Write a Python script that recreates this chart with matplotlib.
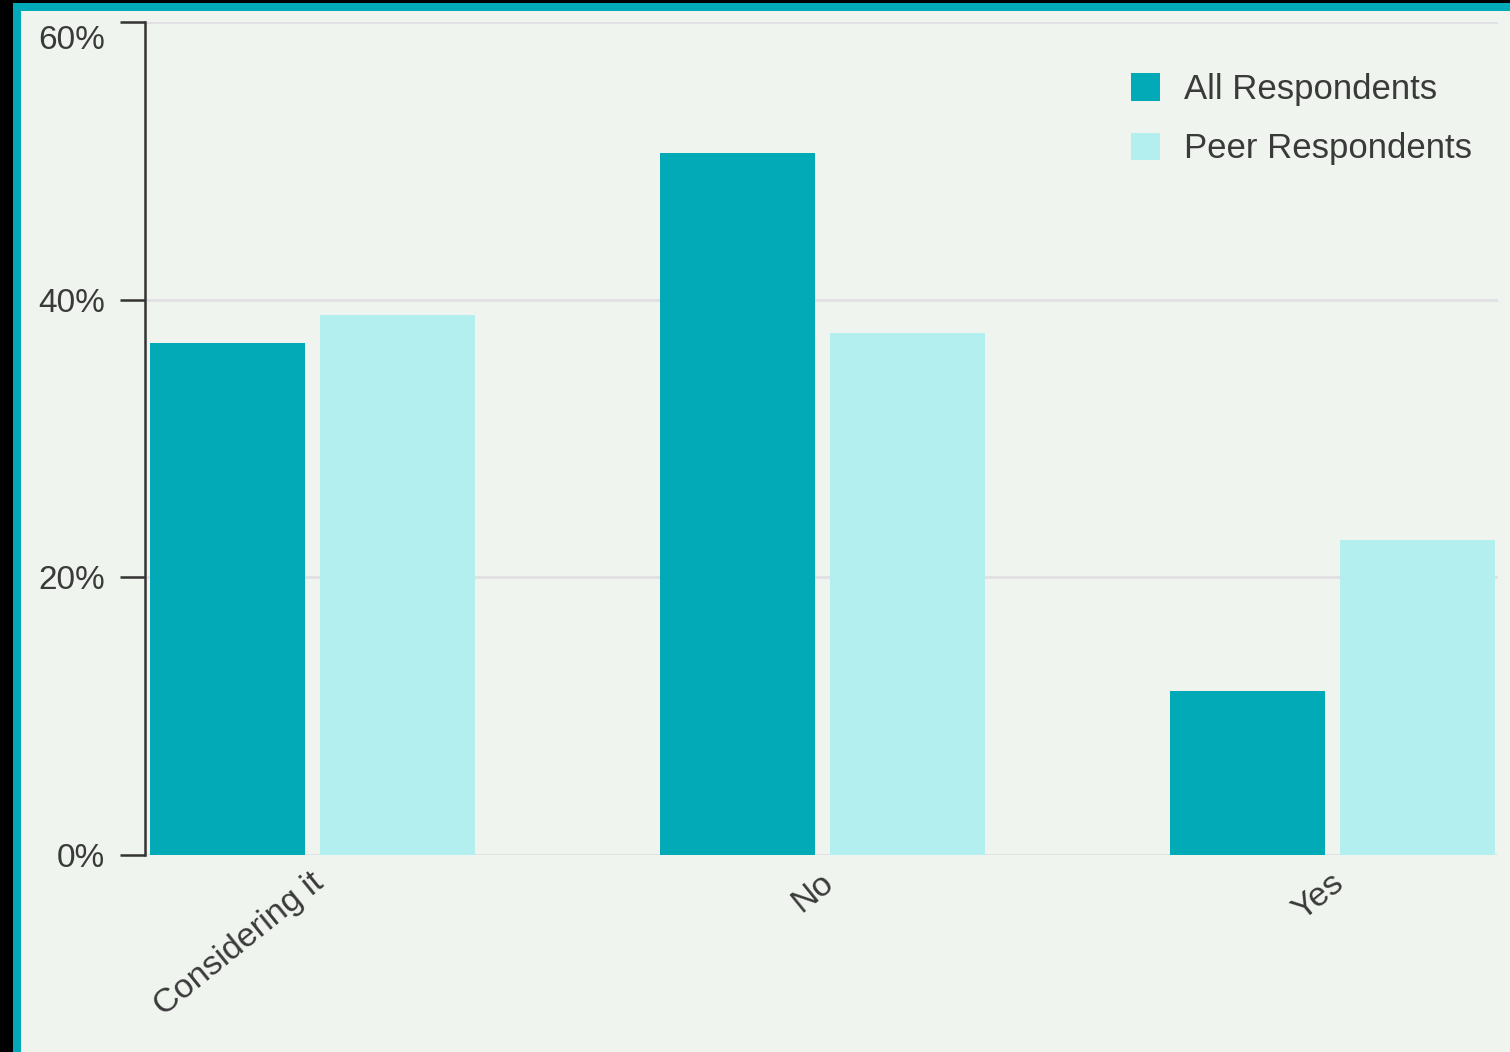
import matplotlib
matplotlib.use("Agg")
import matplotlib.pyplot as plt
import numpy as np
from matplotlib.patches import Rectangle

categories = ["Considering it", "No", "Yes"]
all_resp = [36.9, 50.6, 11.8]
peer_resp = [38.9, 37.6, 22.7]
series_names = ["All Respondents", "Peer Respondents"]
yticks = [0, 20, 40, 60]
ytick_labels = ["0%", "20%", "40%", "60%"]

W, H = 1510, 1052
FONT = "Liberation Sans"
TXT = "#3a3a3a"
fig = plt.figure(figsize=(W / 100, H / 100), dpi=100)
fig.patch.set_facecolor("black")
fig.add_artist(Rectangle((13 / W, 0), 1 - 13 / W, (H - 3) / H, transform=fig.transFigure,
                         facecolor="#02A9B7", edgecolor="none", zorder=0))
fig.add_artist(Rectangle((21 / W, 0), 1 - 21 / W, (H - 11) / H, transform=fig.transFigure,
                         facecolor="#F0F4EF", edgecolor="none", zorder=0))

ax = fig.add_axes([145 / W, (H - 855) / H, (1498 - 145) / W, (855 - 22) / H])
ax.set_facecolor("none")

x = np.arange(len(categories))
bw = 0.304
gap = 0.029
ax.bar(x - (bw + gap) / 2, all_resp, bw, color="#02A9B7", label=series_names[0], zorder=3)
ax.bar(x + (bw + gap) / 2, peer_resp, bw, color="#B3EFEF", label=series_names[1], zorder=3)

ax.set_xlim(-0.328, 2.324)
ax.set_ylim(0, 60)
ax.set_yticks(yticks)
# the top label is drawn separately, pushed down inside the figure
ax.set_yticklabels(ytick_labels[:-1] + [""], fontsize=24, color=TXT, family=FONT)
ax.annotate(ytick_labels[-1], xy=(0, yticks[-1]), xycoords=("axes fraction", "data"),
            xytext=(-28.8, -13), textcoords="offset points", ha="right", va="center",
            fontsize=24, color=TXT, family=FONT)
for v in yticks:
    ax.axhline(v, color="#E1E0E4", lw=2, zorder=1)

ax.set_xticks(x - 0.005)
ax.set_xticklabels(categories, rotation=39, ha="right", va="top", rotation_mode="anchor",
                   fontsize=24.5, color=TXT, family=FONT)
ax.tick_params(axis="x", length=0, pad=9)
ax.tick_params(axis="y", length=18, width=1.8, color="#333333", pad=11)

for s in ["top", "right", "bottom"]:
    ax.spines[s].set_visible(False)
ax.spines["left"].set_color("#333333")
ax.spines["left"].set_linewidth(1.8)

leg = fig.legend(loc="upper left", bbox_to_anchor=(1131 / W, 1 - 73 / H), frameon=False,
                 prop={"family": FONT, "size": 25}, handlelength=0.84, handleheight=0.84,
                 handletextpad=0.69, labelspacing=0.76, borderpad=0, borderaxespad=0,
                 labelcolor=TXT)

fig.savefig("out.png", dpi=100, facecolor=fig.get_facecolor())
